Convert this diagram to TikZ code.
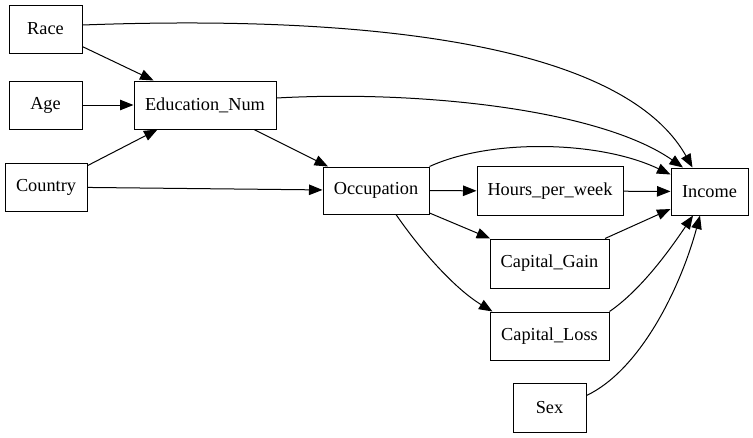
\documentclass[tikz,border=0pt]{standalone}
\usepackage{fontspec}
\setmainfont{Liberation Serif}
\usetikzlibrary{arrows.meta}
\tikzset{
	var/.style={draw, line width=1pt, inner sep=0pt, minimum height=48pt, font=\fontsize{18.3}{21}\selectfont},
	edge/.style={line width=1pt, -{Triangle[length=13.5pt,width=10.5pt]}}
}
\begin{document}
\begin{tikzpicture}[x=1pt, y=-1pt]
					\useasboundingbox (0,0) rectangle (753,437);
					\node[var, minimum width=73pt] (race) at (45.5,29) {Race};
					\node[var, minimum width=73pt] (age) at (45.5,105) {Age};
					\node[var, minimum width=82pt] (country) at (46,187) {Country};
					\node[var, minimum width=142pt] (edu) at (205,105) {Education\_Num};
					\node[var, minimum width=106pt, minimum height=47pt] (occ) at (376,190.5) {Occupation};
					\node[var, minimum width=146pt, minimum height=49pt] (hours) at (550,191) {Hours\_per\_week};
					\node[var, minimum width=77pt, minimum height=47pt] (income) at (709.5,191.5) {Income};
					\node[var, minimum width=119pt, minimum height=49pt] (gain) at (549.5,263.5) {Capital\_Gain};
					\node[var, minimum width=119pt] (loss) at (549.5,336) {Capital\_Loss};
					\node[var, minimum width=73pt, minimum height=49pt] (sex) at (549.5,407.5) {Sex};
					\draw[edge] (race) -- (edu);
					\draw[edge] (age) -- (edu);
					\draw[edge] (country) -- (edu);
					\draw[edge] (country) -- (occ);
					\draw[edge] (edu) -- (occ);
					\draw[edge] (occ) -- (hours);
					\draw[edge] (occ) -- (gain);
					\draw[edge] (hours) -- (income);
					\draw[edge] (gain) -- (income);
					\draw[edge] ([yshift=4pt]race.east) .. controls +(268,-10) and +(-72,-128) .. ([xshift=-17pt]income.north);
					\draw[edge] ([yshift=7pt]edu.east) .. controls +(144,-8) and +(-83,-58) .. ([xshift=-26.5pt]income.north);
					\draw[edge] (occ.north east) .. controls +(61,-28) and +(-71,-34) .. ([yshift=17pt]income.west);
					\draw[edge] ([xshift=20pt]occ.south) .. controls +(24,35) and +(-38,-23) .. ([xshift=3pt]loss.north west);
					\draw[edge] (loss.north east) .. controls +(32,-22) and +(-23,34) .. ([xshift=-16.5pt]income.south);
					\draw[edge] ([yshift=12pt]sex.east) .. controls +(53,-25) and +(-20,74) .. ([xshift=-9.5pt]income.south);
				\end{tikzpicture}
\end{document}
